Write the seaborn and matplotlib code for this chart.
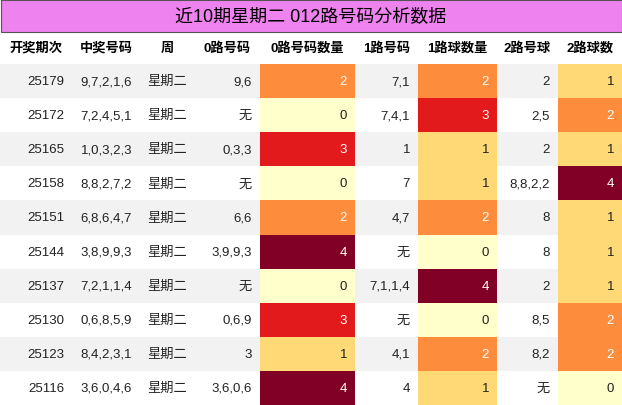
import matplotlib
matplotlib.use("Agg")
import matplotlib.pyplot as plt
from matplotlib.patches import Rectangle
import seaborn as sns

title = "近10期星期二 012路号码分析数据"
headers = ["开奖期次", "中奖号码", "周", "0路号码", "0路号码数量", "1路号码", "1路球数量", "2路号球", "2路球数"]
periods = ["25179", "25172", "25165", "25158", "25151", "25144", "25137", "25130", "25123", "25116"]
numbers = ["9,7,2,1,6", "7,2,4,5,1", "1,0,3,2,3", "8,8,2,7,2", "6,8,6,4,7", "3,8,9,9,3", "7,2,1,1,4", "0,6,8,5,9", "8,4,2,3,1", "3,6,0,4,6"]
weekday = ["星期二"] * 10
r0 = ["9,6", "无", "0,3,3", "无", "6,6", "3,9,9,3", "无", "0,6,9", "3", "3,6,0,6"]
c0 = [2, 0, 3, 0, 2, 4, 0, 3, 1, 4]
r1 = ["7,1", "7,4,1", "1", "7", "4,7", "无", "7,1,1,4", "无", "4,1", "4"]
c1 = [2, 3, 1, 1, 2, 0, 4, 0, 2, 1]
r2 = ["2", "2,5", "2", "8,8,2,2", "8", "8", "2", "8,5", "8,2", "无"]
c2 = [1, 2, 1, 4, 1, 1, 1, 2, 2, 0]

plt.rcParams["font.family"] = ["Liberation Sans", "Noto Sans CJK SC", "Noto Sans CJK JP", "DejaVu Sans"]

W, H = 622, 406
fig = plt.figure(figsize=(W / 100, H / 100), dpi=100)
ax = fig.add_axes([0, 0, 1, 1])
ax.set_xlim(0, W); ax.set_ylim(H, 0); ax.axis("off")
pal = sns.color_palette(["#ffffcc", "#fed976", "#fd8d3c", "#e31a1c", "#800026"])

edges = [0, 72, 140, 195, 260, 355, 418, 497, 558, 622]
title_h, head_h = 32, 33
row_h = (H - title_h - head_h) / 10

ax.add_patch(Rectangle((0.5, 0.5), W - 1, title_h, facecolor="#EE82EE", edgecolor="#555555", lw=0.8))
ax.text(W / 2, title_h / 2 + 1, title, ha="center", va="center", fontsize=13)

for j, h in enumerate(headers):
    ax.text((edges[j] + edges[j + 1]) / 2, title_h + head_h / 2, h, ha="center", va="center",
            fontsize=9.5, fontweight="bold")

cols = [periods, numbers, weekday, r0, c0, r1, c1, r2, c2]
counts = {4: c0, 6: c1, 8: c2}
for i in range(10):
    y0 = title_h + head_h + i * row_h
    bg = "#F2F2F2" if i % 2 == 0 else "white"
    ax.add_patch(Rectangle((0, y0), W, row_h, facecolor=bg, edgecolor="none"))
    for j in range(9):
        x0, x1 = edges[j], edges[j + 1]
        v = cols[j][i]
        color = "#222222"
        if j in counts:
            ax.add_patch(Rectangle((x0, y0), x1 - x0, row_h, facecolor=pal[v], edgecolor="none"))
            if v >= 2:
                color = "white"
        ax.text(x1 - 8, y0 + row_h / 2, str(v), ha="right", va="center", fontsize=9.5, color=color)

fig.savefig("out.png", dpi=100)
